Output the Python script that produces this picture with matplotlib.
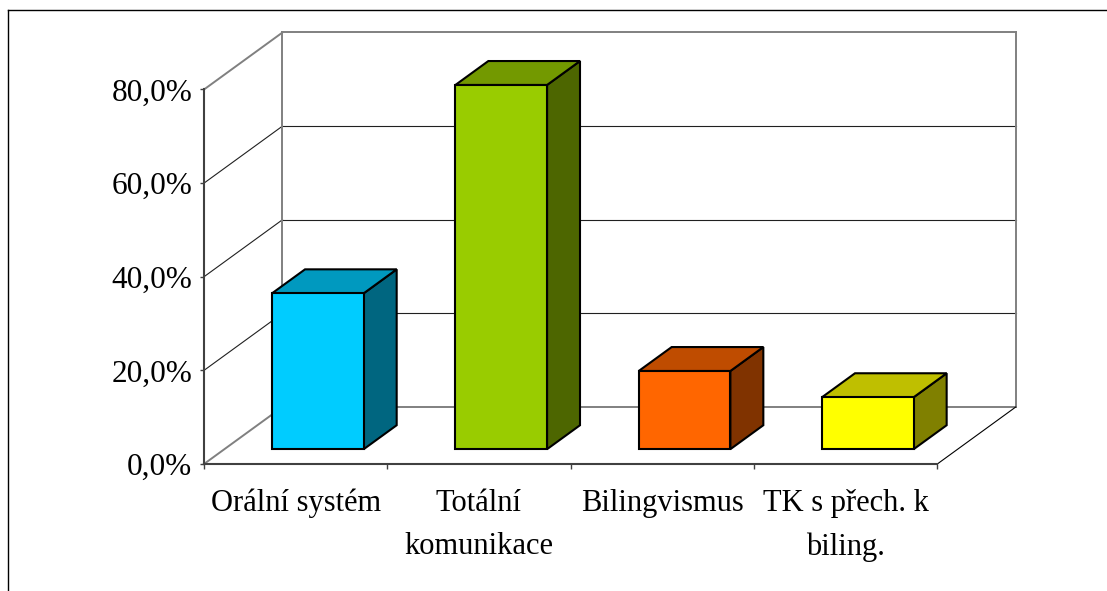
import matplotlib
matplotlib.use("Agg")
import matplotlib.pyplot as plt
from matplotlib.patches import Polygon
from matplotlib.lines import Line2D
from matplotlib.ticker import FuncFormatter

# data
categories = ["Orální systém", "Totální\nkomunikace", "Bilingvismus", "TK s přech. k\nbiling."]
values = [0.333, 0.778, 0.167, 0.111]
front_colors = ["#00CCFF", "#99CC00", "#FF6600", "#FFFF00"]
top_colors = ["#0099BF", "#739900", "#BF4C00", "#BFBF00"]
side_colors = ["#006680", "#4D6600", "#803300", "#808000"]
y_ticks = [0.0, 0.2, 0.4, 0.6, 0.8]

# oblique "3d" depth vector, in data units of the front plane
DX = 0.428
DY = 0.1218
BAR_D0, BAR_D1 = 0.26, 0.68
WALL = "#808080"

def proj(x, y, d):
	return (x + d * DX, y + d * DY)

def seg(a, b, color, lw):
	ax.add_line(Line2D([a[0], b[0]], [a[1], b[1]], color=color, lw=lw, clip_on=False, zorder=1))

plt.rcParams['font.family'] = ['Liberation Serif', 'DejaVu Serif']

fig = plt.figure(figsize=(11.07, 5.91), dpi=100)
ax = fig.add_axes([204 / 1107, 127 / 591, 733.3 / 1107, 374.5 / 591])
ax.set_xlim(0, len(categories))
ax.set_ylim(0, 0.8)

n = len(categories)
ymax = y_ticks[-1]

# back wall + left wall: outer edges gray, inner gridlines thin black
for v in y_ticks:
	if v == 0 or v == ymax:
		seg(proj(0, v, 1), proj(n, v, 1), WALL, 1.4)
		seg(proj(0, v, 0), proj(0, v, 1), WALL, 1.4)
	else:
		seg(proj(0, v, 1), proj(n, v, 1), "#202020", 0.8)
		seg(proj(0, v, 0), proj(0, v, 1), "#202020", 0.8)
for x in [0, n]:
	seg(proj(x, 0, 1), proj(x, ymax, 1), WALL, 1.4)

# floor right edge
seg(proj(n, 0, 0), proj(n, 0, 1), "black", 0.8)

# bars
for i, v in enumerate(values):
	x0, x1 = i + 0.26, i + 0.76
	front = [proj(x0, 0, BAR_D0), proj(x1, 0, BAR_D0), proj(x1, v, BAR_D0), proj(x0, v, BAR_D0)]
	top = [proj(x0, v, BAR_D0), proj(x1, v, BAR_D0), proj(x1, v, BAR_D1), proj(x0, v, BAR_D1)]
	side = [proj(x1, 0, BAR_D0), proj(x1, 0, BAR_D1), proj(x1, v, BAR_D1), proj(x1, v, BAR_D0)]
	for pts, c in [(side, side_colors[i]), (top, top_colors[i]), (front, front_colors[i])]:
		ax.add_patch(Polygon(pts, closed=True, facecolor=c, edgecolor="black",
			lw=1.5, joinstyle="miter", clip_on=False, zorder=3))

# front axes
for s in ["top", "right"]:
	ax.spines[s].set_visible(False)
for s in ["left", "bottom"]:
	ax.spines[s].set_color("#404040")
	ax.spines[s].set_linewidth(1.5)
	ax.spines[s].set_zorder(2)
ax.patch.set_visible(False)

ax.set_yticks(y_ticks)
ax.yaxis.set_major_formatter(FuncFormatter(lambda v, _: ("%.1f" % (v * 100)).replace(".", ",") + "%"))
ax.tick_params(axis="y", direction="out", length=3, width=1, color="#404040", pad=5.3, labelsize=22.5)

ax.set_xticks(range(n + 1))
ax.set_xticklabels([])
ax.set_xticks([i + 0.5 for i in range(n)], minor=True)
ax.set_xticklabels(categories, minor=True)
ax.tick_params(axis="x", which="major", direction="out", length=3.6, width=1, color="#404040")
ax.tick_params(axis="x", which="minor", length=0, pad=18, labelsize=22)
plt.setp(ax.get_xticklabels(minor=True), linespacing=1.65)

# outer chart frame (cut at right and bottom)
fig.add_artist(Line2D([8 / 1107, 1], [1 - 10 / 591, 1 - 10 / 591], transform=fig.transFigure, color="black", lw=1))
fig.add_artist(Line2D([8 / 1107, 8 / 1107], [0, 1 - 10 / 591], transform=fig.transFigure, color="black", lw=1))

fig.savefig("out.png", dpi=100)
